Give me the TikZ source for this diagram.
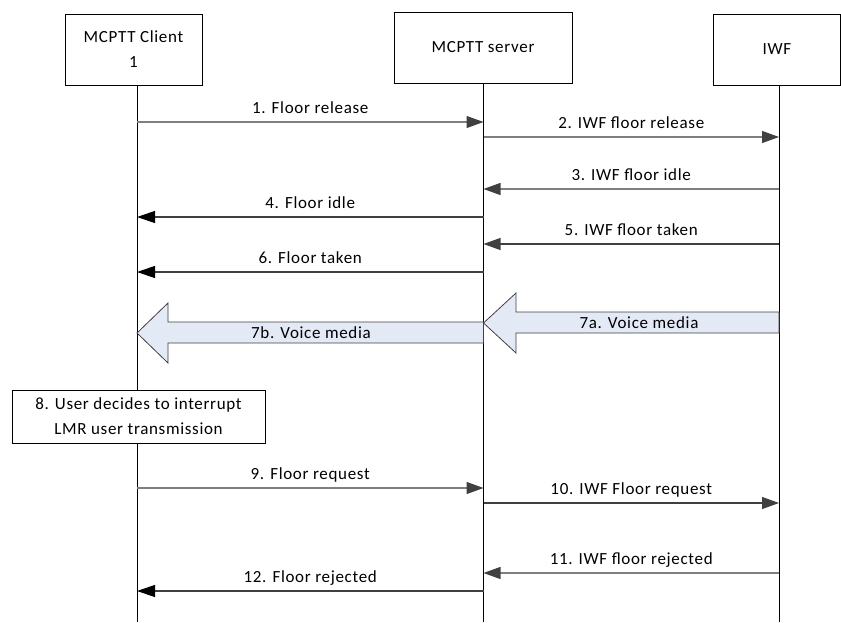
\documentclass[tikz,border=0pt]{standalone}
\usepackage{fontspec}
\setmainfont{Carlito}[LetterSpace=4]
\usepackage{tikz}
\usetikzlibrary{arrows.meta,calc,positioning}
\definecolor{Msg_Gray}{HTML}{7F7F7F}
\definecolor{Msg_Dark}{HTML}{404040}
\definecolor{Media_Fill}{HTML}{E3EAF6}

\begin{document}
\begin{tikzpicture}[x=1pt, y=-1pt, font=\fontsize{17}{25}\selectfont,
    entity/.style={draw, line width=0.8pt, align=center, inner sep=0pt, fill=white},
    life/.style={line width=0.8pt},
    gmsg/.style={Msg_Gray, line width=1.1pt, -{Triangle[length=17pt,width=12pt,color=Msg_Dark]}},
    dmsg/.style={Msg_Dark, line width=1.1pt, -{Triangle[length=17pt,width=12pt,color=Msg_Dark]}},
    kmsg/.style={Msg_Dark, line width=1.1pt, -{Triangle[length=18pt,width=12pt,color=black]}},
    lbl/.style={above=4pt, inner sep=0pt, text depth=4pt, text=black},
    media/.style={draw=Msg_Dark, line width=0.8pt, fill=Media_Fill}]
    \useasboundingbox (0,0) rectangle (841,622);

    % Entities
    \node[entity, minimum width=137pt, minimum height=71pt] (client) at (133.5,49.5) {MCPTT Client\\1};
    \node[entity, minimum width=178pt, minimum height=71pt] (server) at (483,47.5) {MCPTT server};
    \node[entity, minimum width=127pt, minimum height=71pt] (iwf) at (777,49.5) {IWF};

    % Lifelines
    \coordinate (cl) at (137,85);
    \coordinate (sv) at (483.5,83);
    \coordinate (iw) at (779,85);
    \draw[life] (cl) -- (cl |- 0,622);
    \draw[life] (sv) -- (sv |- 0,622);
    \draw[life] (iw) -- (iw |- 0,622);

    % Floor release and idle
    \draw[gmsg] (cl |- 0,122) -- node[lbl] {1. Floor release} (sv |- 0,122);
    \draw[gmsg] (sv |- 0,137) -- node[lbl] {2. IWF floor release} (iw |- 0,137);
    \draw[gmsg] (iw |- 0,189) -- node[lbl] {3. IWF floor idle} (sv |- 0,189);
    \draw[kmsg] (sv |- 0,217) -- node[lbl] {4. Floor idle} (cl |- 0,217);
    \draw[dmsg] (iw |- 0,244) -- node[lbl] {5. IWF floor taken} (sv |- 0,244);
    \draw[kmsg] (sv |- 0,272) -- node[lbl] {6. Floor taken} (cl |- 0,272);

    % Voice media
    \draw[media] (iw |- 0,312) -- (516,312) -- (516,293) -- (sv |- 0,323)
        -- (516,353) -- (516,333) -- (iw |- 0,333) -- cycle;
    \node (m7a) at (639,323) {7a. Voice media};
    \draw[media] (sv |- 0,322) -- (168,322) -- (168,303) -- (cl |- 0,333)
        -- (168,363) -- (168,343) -- (sv |- 0,343) -- cycle;
    \node (m7b) at (311,333) {7b. Voice media};

    % User decision
    \node[entity, minimum width=253pt, minimum height=53pt] (decide) at (138.5,416.5)
        {8. User decides to interrupt\\LMR user transmission};

    % Floor request and rejection
    \draw[gmsg] (cl |- 0,488) -- node[lbl] {9. Floor request} (sv |- 0,488);
    \draw[dmsg] (sv |- 0,503) -- node[lbl] {10. IWF Floor request} (iw |- 0,503);
    \draw[gmsg] (iw |- 0,573) -- node[lbl] {11. IWF floor rejected} (sv |- 0,573);
    \draw[kmsg] (sv |- 0,591) -- node[lbl] {12. Floor rejected} (cl |- 0,591);

\end{tikzpicture}
\end{document}
